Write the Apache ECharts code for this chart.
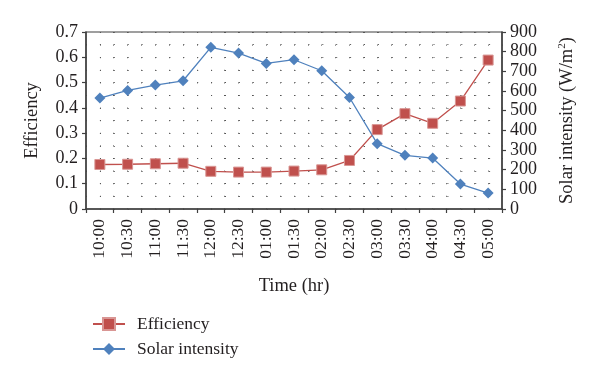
<!DOCTYPE html>
<html>
<head>
<meta charset="utf-8">
<script src="https://cdn.jsdelivr.net/npm/echarts@6/dist/echarts.min.js"></script>
<style>html,body{margin:0;padding:0;background:#fff;}#c{width:600px;height:378px;}</style>
</head>
<body>
<div id="c"></div>
<script>
var categories = ['10:00','10:30','11:00','11:30','12:00','12:30','01:00','01:30','02:00','02:30','03:00','03:30','04:00','04:30','05:00'];
var efficiency = [0.176,0.177,0.179,0.181,0.149,0.146,0.146,0.150,0.155,0.192,0.314,0.377,0.339,0.427,0.589];
var solarIntensity = [564,603,630,652,822,793,740,759,703,567,332,273,259,127,81];
var effTicks = {min: 0, max: 0.7, interval: 0.1};
var solarTicks = {min: 0, max: 900, interval: 100};

var halfSlots = [];
for (var i = 0; i < categories.length * 2; i++) halfSlots.push('');

var FONT = 'Liberation Serif';
var axisColor = '#404040';
var dotStyle = {color: '#555', width: 1, type: [1, 12.9]};
var dotStyleV = {color: '#555', width: 1, type: [1, 11.6]};

var chart = echarts.init(document.getElementById('c'), null, {renderer: 'canvas'});
chart.setOption({
  animation: false,
  backgroundColor: '#fff',
  textStyle: {fontFamily: FONT, color: '#231f20'},
  grid: {left: 86, right: 98, top: 32, bottom: 169, show: true, borderColor: axisColor, borderWidth: 1.2, backgroundColor: 'transparent'},
  legend: {
    orient: 'vertical', left: 87, top: 310, itemGap: 7, itemWidth: 32, itemHeight: 15,
    textStyle: {fontFamily: FONT, fontSize: 17.5, color: '#231f20', padding: [0, 0, 0, 7]},
    data: ['Efficiency', 'Solar intensity']
  },
  xAxis: [{
    type: 'category', data: categories, boundaryGap: true,
    name: 'Time (hr)', nameLocation: 'middle', nameGap: 68,
    nameTextStyle: {fontFamily: FONT, fontSize: 18.5, color: '#231f20'},
    axisLine: {lineStyle: {color: axisColor, width: 1.5}},
    axisTick: {show: true, inside: false, length: 4, lineStyle: {color: axisColor, width: 1.2}},
    axisLabel: {rotate: 90, fontFamily: FONT, fontSize: 17.5, color: '#231f20', margin: 10, interval: 0},
    splitLine: {show: false}
  }, {
    type: 'category', data: halfSlots, boundaryGap: true, position: 'bottom',
    axisLine: {show: false}, axisTick: {show: false}, axisLabel: {show: false},
    splitLine: {show: true, interval: 0, lineStyle: dotStyleV}
  }],
  yAxis: [{
    type: 'value', min: effTicks.min, max: effTicks.max, interval: effTicks.interval,
    name: 'Efficiency', nameLocation: 'middle', nameGap: 44, nameRotate: 90,
    nameTextStyle: {fontFamily: FONT, fontSize: 18.5, color: '#231f20'},
    axisLine: {show: true, lineStyle: {color: axisColor, width: 1.5}},
    axisTick: {show: true, length: 4, lineStyle: {color: axisColor, width: 1.2}},
    axisLabel: {fontFamily: FONT, fontSize: 18, color: '#231f20', margin: 8},
    splitLine: {show: true, lineStyle: dotStyle},
    minorTick: {show: false, splitNumber: 2},
    minorSplitLine: {show: true, lineStyle: dotStyle}
  }, {
    type: 'value', min: solarTicks.min, max: solarTicks.max, interval: solarTicks.interval, position: 'right',
    name: 'Solar intensity (W/m{sup|2})', nameLocation: 'middle', nameGap: 55, nameRotate: 90,
    nameTextStyle: {fontFamily: FONT, fontSize: 18.5, color: '#231f20',
      rich: {sup: {fontFamily: FONT, fontSize: 11, color: '#231f20', verticalAlign: 'top', padding: [0, 0, 9, 0]}}},
    axisLine: {show: true, lineStyle: {color: axisColor, width: 1.5}},
    axisTick: {show: true, length: 4, lineStyle: {color: axisColor, width: 1.2}},
    axisLabel: {fontFamily: FONT, fontSize: 18, color: '#231f20', margin: 8},
    splitLine: {show: false}
  }],
  series: [{
    name: 'Efficiency', type: 'line', data: efficiency, yAxisIndex: 0, xAxisIndex: 0,
    symbol: 'rect', symbolSize: 10,
    lineStyle: {color: '#C0504D', width: 1.3},
    itemStyle: {color: '#C0504D', borderColor: '#D99694', borderWidth: 1}
  }, {
    name: 'Solar intensity', type: 'line', data: solarIntensity, yAxisIndex: 1, xAxisIndex: 0,
    symbol: 'diamond', symbolSize: 11,
    lineStyle: {color: '#4F81BD', width: 1.3},
    itemStyle: {color: '#4F81BD', borderColor: '#4F81BD', borderWidth: 0}
  }]
});
</script>
</body>
</html>
